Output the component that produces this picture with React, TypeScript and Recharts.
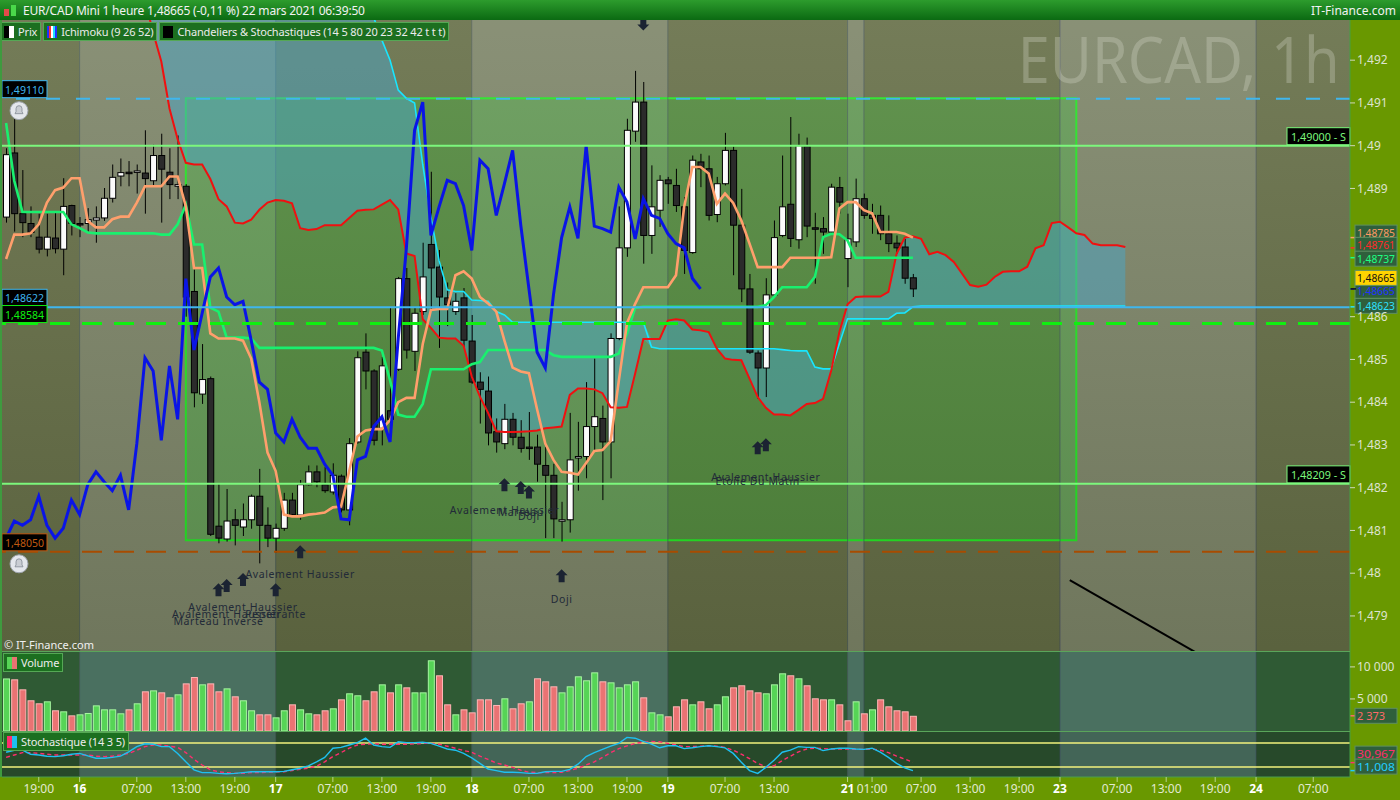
import React from "react";
import {
  ComposedChart,
  Bar,
  Line,
  Area,
  Scatter,
  XAxis,
  YAxis,
  ReferenceLine,
  ReferenceArea,
} from "recharts";

// EUR/CAD 1h, one slot per hour from 15 mars 15:00 to 22 mars 06:00 (+ 26 future slots for the cloud)
const opens = [
  1.48833, 1.48983, 1.48841, 1.48818, 1.48786, 1.48758, 1.48784, 1.48758, 1.4886, 1.48818,
  1.48818, 1.48826, 1.48831, 1.48877, 1.48929, 1.48938, 1.4894, 1.48936, 1.48918, 1.48977,
  1.48938, 1.48905, 1.48905, 1.48659, 1.48419, 1.48455, 1.4811, 1.4808, 1.48125, 1.48108,
  1.48125, 1.4818, 1.48112, 1.48082, 1.48105, 1.48171, 1.48136, 1.48207, 1.48237, 1.48207,
  1.4819, 1.48227, 1.48148, 1.48307, 1.48517, 1.48473, 1.48339, 1.4838, 1.48477, 1.48689,
  1.48519, 1.48612, 1.48769, 1.48716, 1.48644, 1.48612, 1.48644, 1.48543, 1.48447, 1.48426,
  1.48331, 1.48303, 1.4836, 1.48318, 1.48295, 1.48295, 1.48252, 1.48229, 1.48122, 1.48125,
  1.48273, 1.48273, 1.48343, 1.48362, 1.48307, 1.48549, 1.48761, 1.49034, 1.49102, 1.4879,
  1.48849, 1.4892, 1.48907, 1.48857, 1.4875, 1.48962, 1.48946, 1.48839, 1.48911, 1.48989,
  1.48814, 1.48665, 1.48515, 1.4848, 1.48651, 1.4879, 1.48863, 1.4878, 1.48999, 1.48808,
  1.48806, 1.48798, 1.48902, 1.48736, 1.48775, 1.48876, 1.48837, 1.48837, 1.48794, 1.48772,
  1.48763, 1.48691,
];
const highs = [
  1.48994, 1.49062, 1.48943, 1.48858, 1.48841, 1.48841, 1.48845, 1.48924, 1.48862, 1.48833,
  1.48854, 1.48858, 1.48901, 1.48956, 1.4897, 1.48964, 1.48956, 1.49036, 1.49002, 1.49028,
  1.48994, 1.49024, 1.4891, 1.4871, 1.48536, 1.4846, 1.4821, 1.48197, 1.4815, 1.48163,
  1.48184, 1.48244, 1.48154, 1.48116, 1.48188, 1.48188, 1.48218, 1.48252, 1.48252, 1.48248,
  1.48257, 1.48231, 1.48316, 1.48519, 1.48561, 1.48477, 1.48506, 1.48621, 1.48693, 1.48714,
  1.48621, 1.48773, 1.48939, 1.48756, 1.4868, 1.48655, 1.48667, 1.48604, 1.4847, 1.4846,
  1.48362, 1.48396, 1.48375, 1.48358, 1.48377, 1.48324, 1.48295, 1.48256, 1.48167, 1.48375,
  1.48354, 1.48447, 1.48502, 1.48392, 1.48561, 1.48858, 1.49063, 1.49175, 1.49149, 1.48954,
  1.48931, 1.48927, 1.48946, 1.4888, 1.48977, 1.48981, 1.48977, 1.48927, 1.4903, 1.48998,
  1.48899, 1.487, 1.48521, 1.4869, 1.48825, 1.48977, 1.49067, 1.49028, 1.49019, 1.48843,
  1.48833, 1.48911, 1.48927, 1.48841, 1.48923, 1.48888, 1.48864, 1.4886, 1.48837, 1.4879,
  1.48782, 1.487,
];
const lows = [
  1.4882, 1.48799, 1.48786, 1.48786, 1.48748, 1.48741, 1.48748, 1.48697, 1.4879, 1.48786,
  1.48799, 1.48773, 1.48824, 1.48867, 1.48905, 1.48905, 1.48888, 1.48841, 1.48905, 1.4882,
  1.48875, 1.48875, 1.486, 1.48388, 1.48396, 1.48087, 1.4807, 1.48074, 1.48065, 1.48087,
  1.48104, 1.48023, 1.48061, 1.48048, 1.48099, 1.48133, 1.48125, 1.48205, 1.48201, 1.48188,
  1.48184, 1.48142, 1.48112, 1.48303, 1.4843, 1.48299, 1.48299, 1.4834, 1.48473, 1.48502,
  1.48473, 1.48604, 1.48617, 1.48527, 1.48578, 1.48604, 1.48527, 1.48443, 1.4835, 1.48299,
  1.48282, 1.4829, 1.48299, 1.48282, 1.48265, 1.48214, 1.48082, 1.48082, 1.48074, 1.48095,
  1.48193, 1.48222, 1.48286, 1.48171, 1.48222, 1.48545, 1.4874, 1.49009, 1.48724, 1.48747,
  1.4881, 1.48864, 1.48845, 1.487, 1.48747, 1.48903, 1.48825, 1.48821, 1.48907, 1.48697,
  1.48634, 1.48513, 1.48408, 1.48412, 1.4865, 1.48786, 1.48763, 1.48759, 1.48786, 1.48677,
  1.48747, 1.48794, 1.48841, 1.48669, 1.48763, 1.48829, 1.48794, 1.48779, 1.48751, 1.48747,
  1.48677, 1.48646,
];
const closes = [
  1.48979, 1.48841, 1.4882, 1.48797, 1.48758, 1.48786, 1.48759, 1.48858, 1.48818, 1.48816,
  1.48827, 1.48831, 1.48877, 1.48926, 1.48937, 1.48936, 1.48941, 1.48923, 1.48977, 1.48945,
  1.48909, 1.48909, 1.48646, 1.48422, 1.48453, 1.48091, 1.48082, 1.48122, 1.48112, 1.48125,
  1.4818, 1.48112, 1.48082, 1.48105, 1.48171, 1.48137, 1.48207, 1.48237, 1.48214, 1.48193,
  1.48229, 1.48148, 1.48303, 1.48504, 1.48473, 1.48311, 1.48485, 1.4836, 1.48689, 1.48522,
  1.48608, 1.48693, 1.48714, 1.48646, 1.48628, 1.48636, 1.48545, 1.48447, 1.4843, 1.48328,
  1.48307, 1.4836, 1.48318, 1.48292, 1.48292, 1.48255, 1.48229, 1.48127, 1.48125, 1.48265,
  1.48273, 1.48343, 1.48366, 1.48307, 1.48549, 1.48761, 1.49036, 1.49102, 1.4879, 1.48857,
  1.48919, 1.48911, 1.4886, 1.48755, 1.48966, 1.48946, 1.48837, 1.48911, 1.48989, 1.48814,
  1.48665, 1.48517, 1.4848, 1.48651, 1.48785, 1.48857, 1.48783, 1.49, 1.48812, 1.48806,
  1.48798, 1.48903, 1.48868, 1.48782, 1.48876, 1.48837, 1.4883, 1.48794, 1.48771, 1.48761,
  1.4869, 1.48665,
];
const volumes = [
  8200, 8060, 6500, 4790, 4320, 4630, 3230, 3070, 2440, 2600,
  2810, 4000, 3380, 3380, 2760, 3380, 4320, 6190, 6340, 6030,
  5250, 5720, 7430, 8420, 7280, 7430, 6190, 6650, 5410, 4790,
  3230, 2600, 2600, 2130, 3230, 4160, 3380, 2760, 2600, 3230,
  3540, 4940, 5880, 5570, 4790, 6190, 7280, 6030, 7280, 6810,
  6030, 6030, 11030, 8690, 4160, 2600, 3380, 2910, 4940, 4940,
  4060, 5100, 3540, 4320, 4630, 8220, 7750, 6970, 6030, 6970,
  8530, 7910, 9150, 7750, 7590, 6810, 7280, 7750, 5250, 2910,
  2600, 2290, 3850, 4940, 4160, 4630, 3540, 4160, 5410, 6810,
  7130, 6340, 6030, 5880, 7280, 9000, 8690, 8220, 7130, 5100,
  4940, 4940, 4160, 1670, 4630, 2760, 3380, 4940, 3850, 3230,
  3070, 2373,
];
const volumeSide =
  "GRRRRGRGRG" + "GGGGGRGRGR" + "RGRRGRRGRG" + "GRRGGRGGRR" + "GRGGRRGRGR" + "GGGRRGRRRR" +
  "RGRRGRRRGG" + "GGGRGGGGRG" + "GRRRGRRGGR" + "RRRGGGRGRR" + "RGRRGRGRRR" + "RR";
const tenkan = [
  1.48735, 1.48792, 1.48792, 1.48795, 1.48816, 1.48867, 1.48896, 1.48902, 1.48924, 1.48924,
  1.48824, 1.48809, 1.48809, 1.48828, 1.48834, 1.48834, 1.48867, 1.48905, 1.48905, 1.48905,
  1.48928, 1.48928, 1.48858, 1.48714, 1.48714, 1.48561, 1.48549, 1.48549, 1.48549, 1.48544,
  1.48502, 1.484, 1.48282, 1.48239, 1.48137, 1.48133, 1.48133, 1.48137, 1.48139, 1.48142,
  1.48154, 1.48156, 1.48239, 1.4832, 1.48334, 1.48337, 1.48337, 1.48358, 1.484, 1.4841,
  1.4841, 1.48536, 1.48616, 1.48618, 1.48618, 1.48697, 1.48706, 1.48689, 1.48646, 1.48631,
  1.48612, 1.48544, 1.48481, 1.48472, 1.48468, 1.48383, 1.48303, 1.48265, 1.48237, 1.48235,
  1.48231, 1.48258, 1.48286, 1.48288, 1.48309, 1.4845, 1.48585, 1.4863, 1.48669, 1.48669,
  1.48669, 1.48669, 1.48697, 1.48857, 1.4895, 1.4895, 1.48935, 1.48864, 1.48888, 1.48866,
  1.48825, 1.48771, 1.48716, 1.48716, 1.48716, 1.48716, 1.48738, 1.48738, 1.48738, 1.48738,
  1.48738, 1.48739, 1.48853, 1.48868, 1.48868, 1.48849, 1.48842, 1.48798, 1.48798, 1.48798,
  1.48794, 1.48785,
];
const kijun = [
  1.49053, 1.48918, 1.48845, 1.48845, 1.48845, 1.48845, 1.48845, 1.48845, 1.48816, 1.48807,
  1.48797, 1.48795, 1.48795, 1.48795, 1.48795, 1.48795, 1.48795, 1.48795, 1.48795, 1.48792,
  1.48792, 1.48816, 1.48862, 1.48769, 1.48769, 1.48621, 1.48612, 1.48551, 1.48551, 1.48551,
  1.48549, 1.48527, 1.48527, 1.48527, 1.48527, 1.48527, 1.48527, 1.48527, 1.48527, 1.48527,
  1.48527, 1.48527, 1.48527, 1.48527, 1.48527, 1.48527, 1.48521, 1.48451, 1.48371, 1.48366,
  1.48366, 1.48396, 1.48477, 1.48477, 1.48477, 1.48477, 1.48477, 1.48489, 1.48494, 1.48522,
  1.48522, 1.48522, 1.48522, 1.48522, 1.48522, 1.48522, 1.48522, 1.4851, 1.48506, 1.48506,
  1.48506, 1.48506, 1.48506, 1.48506, 1.48506, 1.48514, 1.4856, 1.48621, 1.48623, 1.48623,
  1.48623, 1.48623, 1.48623, 1.48623, 1.48623, 1.48623, 1.48623, 1.48623, 1.48623, 1.48623,
  1.48623, 1.48623, 1.48623, 1.48627, 1.48646, 1.48669, 1.48669, 1.48669, 1.48669, 1.48693,
  1.48786, 1.48794, 1.48793, 1.48778, 1.48738, 1.48738, 1.48738, 1.48738, 1.48738, 1.48738,
  1.48738, 1.48738,
];
// red span, values above 1.4929 sit off the top of the chart
const senkouA = [
  null, null, null, null, null, null, null, null, null, null,
  null, null, null, null, null, null, null, 1.4934, 1.49265, 1.49197,
  1.49087, 1.49015, 1.4896, 1.48956, 1.48956, 1.48922, 1.48875, 1.48858, 1.4882, 1.48818,
  1.48827, 1.4885, 1.48867, 1.48873, 1.48871, 1.48865, 1.48807, 1.48803, 1.48805, 1.48814,
  1.48814, 1.48814, 1.48831, 1.48848, 1.4885, 1.48851, 1.48862, 1.48873, 1.48851, 1.48748,
  1.48742, 1.48594, 1.48574, 1.48551, 1.48549, 1.48549, 1.48532, 1.4846, 1.48413, 1.48375,
  1.48332, 1.4833, 1.4833, 1.48331, 1.48332, 1.48334, 1.48339, 1.48341, 1.48343, 1.48417,
  1.48432, 1.48432, 1.4843, 1.48421, 1.48388, 1.48387, 1.48389, 1.48467, 1.48548, 1.48548,
  1.48548, 1.48591, 1.48594, 1.48591, 1.4857, 1.48568, 1.48564, 1.48525, 1.48502, 1.48499,
  1.48498, 1.48455, 1.48412, 1.48387, 1.48371, 1.48371, 1.48369, 1.48382, 1.48396, 1.48398,
  1.48408, 1.48474, 1.48564, 1.48629, 1.48646, 1.48647, 1.48647, 1.48647, 1.48658, 1.48747,
  1.48785, 1.48788, 1.48782, 1.48746, 1.48752, 1.48744, 1.48728, 1.48701, 1.48674, 1.4867,
  1.48675, 1.48693, 1.48705, 1.48706, 1.48706, 1.48717, 1.4876, 1.48767, 1.48819, 1.48822,
  1.48809, 1.48795, 1.48791, 1.48771, 1.48767, 1.48767, 1.48767, 1.48763,
];
// cyan span
const senkouB = [
  null, null, null, null, null, null, null, null, null, null,
  null, null, null, null, null, null, null, 1.4958, 1.4958, 1.4957,
  1.4955, 1.4955, 1.4953, 1.495, 1.495, 1.4948, 1.4946, 1.4946, 1.4945, 1.4945,
  1.4943, 1.4942, 1.4942, 1.4941, 1.494, 1.494, 1.4939, 1.4938, 1.4937, 1.4937,
  1.4935, 1.4934, 1.4933, 1.4932, 1.4931, 1.493, 1.49247, 1.492, 1.4913, 1.49111,
  1.491, 1.48956, 1.48833, 1.48731, 1.48663, 1.48659, 1.48659, 1.48639, 1.48638, 1.48636,
  1.48612, 1.48604, 1.48587, 1.48587, 1.48587, 1.48587, 1.48587, 1.48587, 1.48587, 1.48587,
  1.48587, 1.48587, 1.48587, 1.48587, 1.48587, 1.48587, 1.48587, 1.48587, 1.48587, 1.48529,
  1.48525, 1.48525, 1.48525, 1.48525, 1.48525, 1.48525, 1.48525, 1.48525, 1.48525, 1.48525,
  1.48525, 1.48525, 1.48525, 1.48525, 1.48525, 1.48523, 1.48521, 1.4852, 1.4852, 1.48482,
  1.48478, 1.48478, 1.48537, 1.48595, 1.48595, 1.48595, 1.48595, 1.48595, 1.48595, 1.48608,
  1.48609, 1.48623, 1.48625, 1.48625, 1.48625, 1.48625, 1.48625, 1.48625, 1.48625, 1.48625,
  1.48625, 1.48625, 1.48625, 1.48625, 1.48625, 1.48625, 1.48625, 1.48625, 1.48625, 1.48625,
  1.48625, 1.48625, 1.48625, 1.48625, 1.48625, 1.48625, 1.48625, 1.48625,
];
const stochK = [
  57, 62, 62, 52, 50, 47, 46, 48, 52, 54, 48, 42, 42, 44, 47, 58, 71, 78, 77, 71,
  71, 54, 33, 13, 6, 6, 4, 3, 4, 6, 8, 8, 8, 8, 9, 13, 17, 23, 33, 44,
  67, 69, 75, 81, 92, 75, 71, 69, 83, 81, 81, 82, 79, 72, 65, 62, 54, 43, 29, 15,
  11, 7, 7, 6, 4, 4, 8, 9, 9, 14, 27, 46, 56, 64, 72, 79, 94, 92, 84, 77,
  68, 73, 73, 66, 68, 71, 73, 71, 68, 54, 32, 11, 4, 19, 37, 57, 62, 71, 69, 69,
  61, 65, 67, 67, 65, 64, 67, 57, 44, 29, 18, 11,
];
const stochD = [
  44, 50, 56, 56, 54, 52, 50, 50, 50, 50, 50, 47, 46, 47, 50, 54, 62, 71, 75, 75,
  72, 69, 56, 39, 25, 13, 8, 6, 4, 4, 6, 6, 7, 8, 8, 11, 14, 17, 22, 33,
  46, 56, 67, 75, 77, 78, 77, 77, 77, 77, 78, 79, 79, 77, 72, 67, 61, 57, 47, 39,
  30, 25, 19, 12, 7, 6, 6, 6, 7, 11, 17, 25, 33, 44, 56, 66, 73, 79, 82, 84,
  83, 79, 75, 71, 71, 72, 73, 72, 69, 62, 52, 41, 29, 21, 23, 36, 47, 58, 65, 67,
  66, 65, 65, 65, 64, 64, 65, 62, 56, 47, 40, 32,
];

const tickSlots = [4, 9, 16, 22, 28, 33, 40, 46, 52, 57, 64, 70, 76, 81, 88, 94, 103, 106, 112, 118, 124, 129, 136, 142, 148, 153, 160];
const tickLabels = ["19:00", "16", "07:00", "13:00", "19:00", "17", "07:00", "13:00", "19:00", "18", "07:00", "13:00", "19:00", "19", "07:00", "13:00", "21", "01:00", "07:00", "13:00", "19:00", "23", "07:00", "13:00", "19:00", "24", "07:00"];
const dayEdges = [-0.5, 9, 33, 57, 81, 103, 105, 129, 153, 164.5];
// 1,487 and 1,488 sit behind the last-value tags
const priceTicks = [1.479, 1.48, 1.481, 1.482, 1.483, 1.484, 1.485, 1.486, 1.489, 1.49, 1.491, 1.492];

// candle patterns
const patternSlots = [26, 27, 29, 33, 36, 61, 63, 64, 68, 92, 93];
const patternArrow = [1.4796, 1.4797, 1.47984, 1.4796, 1.48049, 1.48206, 1.48199, 1.48189, 1.47993, 1.48292, 1.48299];
const patternText = [1.47888, 1.47904, 1.4792, 1.47904, 1.47998, 1.48147, 1.48143, 1.48133, 1.47939, 1.48215, 1.48225];
const patternNames = ["Marteau Inversé", "Avalement Haussier", "Avalement Haussier", "Pénétrante", "Avalement Haussier", "Avalement Haussier", "Marteau", "Doji", "Doji", "Etoile Du Matin", "Avalement Haussier"];
const bearSlots = [78];
const bearLevels = [1.49286];

// drawings
const zone = { from: 22, to: 131, low: 1.48077, high: 1.49111 };
const trend = { x1: 130.2, y1: 1.47984, x2: 145.6, y2: 1.47815 };
const lastPrice = 1.48665;
const lastVolume = 2373;
const lastK = 11.008;
const lastD = 30.967;

const FONT = "'Segoe UI', 'Noto Sans', 'DejaVu Sans', sans-serif";
const PRICE_DOMAIN: [number, number] = [1.47818, 1.49294];
const X_DOMAIN: [number, number] = [-0.5, 164.5];

const rows = Array.from({ length: 165 }, (_, i) => {
  const has = i < closes.length;
  const sa = senkouA[i] ?? null;
  const sb = senkouB[i] ?? null;
  return {
    i,
    o: has ? opens[i] : null,
    h: has ? highs[i] : null,
    l: has ? lows[i] : null,
    c: has ? closes[i] : null,
    hl: has ? [lows[i], highs[i]] : null,
    tenkan: tenkan[i] ?? null,
    kijun: kijun[i] ?? null,
    chikou: i + 26 < closes.length ? closes[i + 26] : null,
    sa,
    sb,
    cloud: sa != null && sb != null ? [Math.min(sa, sb), Math.max(sa, sb)] : null,
    vol: has ? volumes[i] : null,
    side: volumeSide[i] ?? "",
    k: stochK[i] ?? null,
    d: stochD[i] ?? null,
  };
});

const arrowPts = patternSlots.map((s, n) => ({ i: s, lv: patternArrow[n], up: true }))
  .concat(bearSlots.map((s, n) => ({ i: s, lv: bearLevels[n], up: false })));
const textPts = patternSlots.map((s, n) => ({ i: s, lv: patternText[n], name: patternNames[n] }));

const fmtPrice = (v: number) => v.toFixed(3).replace(/0+$/, "").replace(/\.$/, "").replace(".", ",");
const fmt5 = (v: number) => v.toFixed(5).replace(".", ",");
const fmtVol = (v: number) => String(v).replace(/\B(?=(\d{3})+(?!\d))/g, " ");

function Candle(props: any) {
  const { x, y, width, height, payload } = props;
  if (!payload || payload.c == null || !isFinite(y) || !isFinite(height)) return <g />;
  const { o, h, l, c } = payload;
  const span = h - l > 0 ? h - l : 1e-9;
  const at = (v: number) => y + ((h - v) / span) * height;
  const mid = x + width / 2;
  const top = at(Math.max(o, c));
  const bottom = at(Math.min(o, c));
  const bull = c >= o;
  return (
    <g>
      <line x1={mid} x2={mid} y1={y} y2={y + height} stroke="#000" strokeWidth={1} />
      <rect x={x + 0.5} y={top} width={width - 1} height={Math.max(bottom - top, 1.5)}
        fill={bull ? "#fbfbfb" : "#2b2b2b"} stroke="#000" strokeWidth={1} />
    </g>
  );
}

function VolBar(props: any) {
  const { x, y, width, height, payload } = props;
  if (!payload || payload.vol == null || !(height > 0)) return <g />;
  const up = payload.side === "G";
  return (
    <rect x={x + 0.5} y={y + 0.5} width={width - 1} height={height - 0.5}
      fill={up ? "#56d456" : "#ea7373"} stroke={up ? "#a6f5a0" : "#ffb6b6"} strokeWidth={1} />
  );
}

function PatternArrow(props: any) {
  const { cx, cy, payload } = props;
  if (!isFinite(cx) || !isFinite(cy)) return <g />;
  const s = payload.up ? 1 : -1;
  const d = `M${cx},${cy - 7 * s} L${cx + 6},${cy - s} L${cx + 3},${cy - s} L${cx + 3},${cy + 6 * s} L${cx - 3},${cy + 6 * s} L${cx - 3},${cy - s} L${cx - 6},${cy - s} Z`;
  return <path d={d} fill="#1b2332" />;
}

function PatternText(props: any) {
  const { cx, cy, payload } = props;
  if (!isFinite(cx) || !isFinite(cy)) return <g />;
  return (
    <text x={cx} y={cy + 4} textAnchor="middle" fill="#222a38" fontSize={10.5} letterSpacing={0.6} fontFamily={FONT}>
      {payload.name}
    </text>
  );
}

function Bell({ x, y }: { x: number; y: number }) {
  return (
    <g>
      <circle cx={x} cy={y} r={9} fill="#e4e7ec" stroke="#9ea4ad" />
      <path d={`M${x - 4},${y + 3} L${x + 4},${y + 3} L${x + 3},${y + 1} L${x + 3},${y - 2} Q${x + 3},${y - 5} ${x},${y - 5} Q${x - 3},${y - 5} ${x - 3},${y - 2} L${x - 3},${y + 1} Z`}
        fill="#c9cdd3" stroke="#838a94" strokeWidth={0.8} />
    </g>
  );
}

const leftTag = (text: string, color: string, bell: boolean) => (p: any) => {
  const vb = p.viewBox ?? {};
  const x0 = vb.x ?? 0;
  const y0 = vb.y ?? 0;
  return (
    <g>
      <rect x={x0} y={y0 - 18} width={45} height={17} fill="#000" stroke={color} strokeWidth={1} />
      <text x={x0 + 3} y={y0 - 5} fill={color} fontSize={11.5} fontFamily={FONT} textLength={39} lengthAdjust="spacingAndGlyphs">{text}</text>
      {bell && <Bell x={x0 + 17} y={y0 + 12} />}
    </g>
  );
};

const rightTag = (text: string, color: string) => (p: any) => {
  const vb = p.viewBox ?? {};
  const x0 = (vb.x ?? 0) + (vb.width ?? 0) - 63;
  const y0 = vb.y ?? 0;
  return (
    <g>
      <rect x={x0} y={y0 - 18} width={63} height={17} fill="#000" stroke={color} strokeWidth={1} />
      <text x={x0 + 4} y={y0 - 5} fill={color} fontSize={11.5} fontFamily={FONT} textLength={55} lengthAdjust="spacingAndGlyphs">{text}</text>
    </g>
  );
};

const axisTag = (text: string, color: string, bg: string, dy: number) => (p: any) => {
  const vb = p.viewBox ?? {};
  const x0 = (vb.x ?? 0) + (vb.width ?? 0);
  const y0 = vb.y ?? 0;
  return (
    <g>
      <line x1={x0} x2={x0 + 6} y1={y0} y2={y0} stroke={color} strokeWidth={1.5} />
      <rect x={x0 + 5} y={y0 + dy - 7.5} width={42} height={15} fill={bg} stroke="#5f8f62" strokeWidth={1} />
      <text x={x0 + 7} y={y0 + dy + 4.2} fill={color} fontSize={11.5} fontFamily={FONT}
        textLength={text.length > 5 ? 38 : 28} lengthAdjust="spacingAndGlyphs">{text}</text>
    </g>
  );
};

function XTick(props: any) {
  const { x, y, payload } = props;
  const label = tickLabels[tickSlots.indexOf(payload.value)] ?? "";
  const day = label.length <= 2;
  return (
    <text x={x} y={y} dy="0.71em" textAnchor="middle" fill={day ? "#ffffff" : "#e2ead2"}
      fontSize={12} fontWeight={day ? 700 : 400} fontFamily={FONT}>
      {label}
    </text>
  );
}

function Bands({ dark, light }: { dark: string; light: string }) {
  return (
    <>
      {dayEdges.slice(0, -1).map((e, n) => (
        <ReferenceArea key={"b" + n} x1={e} x2={dayEdges[n + 1]} fill={n % 2 ? light : dark} fillOpacity={1} stroke="none" ifOverflow="visible" />
      ))}
      {dayEdges.slice(1, -1).map((e) => (
        <ReferenceLine key={"s" + e} x={e} stroke="rgba(58,70,104,0.55)" strokeWidth={1} />
      ))}
    </>
  );
}

const legendBox: React.CSSProperties = {
  display: "flex", alignItems: "center", height: 17, padding: "0 3px 0 3px", marginRight: 2,
  background: "#1c6f20", border: "1px solid #55a855", color: "#ececec", fontSize: 11, letterSpacing: -0.15, whiteSpace: "nowrap",
};

function Swatch({ colors }: { colors: string[] }) {
  return (
    <span style={{ display: "inline-flex", marginRight: 4 }}>
      {colors.map((c, n) => (
        <span key={n} style={{ width: 10 / colors.length, height: 12, background: c, display: "inline-block" }} />
      ))}
    </span>
  );
}

export default function App() {
  return (
    <div style={{ position: "relative", width: 1400, height: 800, background: "#699800", overflow: "hidden", fontFamily: FONT }}>
      <style>{"body{margin:0}"}</style>

      {/* title bar */}
      <div style={{ position: "absolute", left: 0, top: 0, width: 1400, height: 20, background: "linear-gradient(#2d9c2d, #0b6a12)", color: "#f2f2f2", fontSize: 12, display: "flex", alignItems: "center" }}>
        <span style={{ display: "inline-flex", alignItems: "flex-end", margin: "0 7px 0 4px", gap: 2 }}>
          <span style={{ width: 5, height: 7, background: "#e24a4a", display: "inline-block" }} />
          <span style={{ width: 5, height: 11, background: "#4ad84a", display: "inline-block" }} />
        </span>
        <span style={{ letterSpacing: -0.2 }}>EUR/CAD Mini 1 heure 1,48665 (-0,11 %) 22 mars 2021 06:39:50</span>
        <span style={{ position: "absolute", right: 4 }}>IT-Finance.com</span>
      </div>

      {/* price panel */}
      <div style={{ position: "absolute", left: 0, top: 20, width: 1400, height: 631 }}>
        <div style={{ position: "absolute", left: 0, top: 0 }}>
          <ComposedChart width={1400} height={631} data={rows} margin={{ top: 0, right: 50, bottom: 0, left: 2 }}>
            <XAxis dataKey="i" type="number" domain={X_DOMAIN} hide allowDataOverflow />
            <YAxis domain={PRICE_DOMAIN} hide allowDataOverflow />
            {Bands({ dark: "#646d45", light: "#7c8467" })}
            <ReferenceArea x1={zone.from} x2={zone.to} y1={zone.low} y2={zone.high} fill="#28c828" fillOpacity={0.3} stroke="#22e522" strokeWidth={2} />
            <Line dataKey="c" stroke="transparent" dot={false} isAnimationActive={false} />
          </ComposedChart>
        </div>
        <div style={{ position: "absolute", left: 2, top: 0, width: 1348, height: 631, background: "linear-gradient(rgba(255,255,255,0.1), rgba(0,0,0,0.1))" }} />
        <div style={{ position: "absolute", right: 60, top: 6, fontSize: 64, lineHeight: "66px", color: "rgba(210,214,196,0.33)", transform: "scaleX(0.9)", transformOrigin: "right" }}>
          EURCAD, 1h
        </div>
        <div style={{ position: "absolute", left: 0, top: 0 }}>
          <ComposedChart width={1400} height={631} data={rows} margin={{ top: 0, right: 0, bottom: 0, left: 2 }}>
            <XAxis dataKey="i" type="number" domain={X_DOMAIN} hide allowDataOverflow />
            <YAxis orientation="right" width={50} domain={PRICE_DOMAIN} allowDataOverflow ticks={priceTicks}
              tickFormatter={fmtPrice} tick={{ fill: "#dde3cf", fontSize: 12, fontFamily: FONT }}
              tickLine={{ stroke: "#cfd8b8" }} tickSize={5} axisLine={{ stroke: "#45a045" }} />
            <Area dataKey="cloud" type="linear" stroke="none" fill="#4aa6c8" fillOpacity={0.5} isAnimationActive={false} />
            <Bar dataKey="hl" barSize={7} shape={Candle} isAnimationActive={false} />
            <Line dataKey="sb" type="linear" stroke="#19e6ff" strokeWidth={1.6} dot={false} isAnimationActive={false} />
            <Line dataKey="sa" type="linear" stroke="#f01010" strokeWidth={2} dot={false} isAnimationActive={false} />
            <Line dataKey="kijun" type="linear" stroke="#19f06e" strokeWidth={2.6} dot={false} isAnimationActive={false} />
            <Line dataKey="tenkan" type="linear" stroke="#ff9f6c" strokeWidth={2.6} dot={false} isAnimationActive={false} />
            <Line dataKey="chikou" type="linear" stroke="#0a14e6" strokeWidth={3} dot={false} isAnimationActive={false} />

            <ReferenceLine y={1.4911} stroke="#3fb6ee" strokeWidth={2} strokeDasharray="14 16" label={leftTag("1,49110", "#3fb6ee", true)} />
            <ReferenceLine y={1.49} stroke="#7cf77c" strokeWidth={2} label={rightTag("1,49000 - S", "#7cf77c")} />
            <ReferenceLine y={1.48622} stroke="#3fb6ee" strokeWidth={2} label={leftTag("1,48622", "#3fb6ee", false)} />
            <ReferenceLine y={1.48584} stroke="#10ef10" strokeWidth={3} strokeDasharray="20 12" label={leftTag("1,48584", "#10ef10", false)} />
            <ReferenceLine y={1.48209} stroke="#7cf77c" strokeWidth={2} label={rightTag("1,48209 - S", "#7cf77c")} />
            <ReferenceLine y={1.4805} stroke="#a84c00" strokeWidth={2} strokeDasharray="20 12" label={leftTag("1,48050", "#c05a10", true)} />
            <ReferenceLine segment={[{ x: trend.x1, y: trend.y1 }, { x: trend.x2, y: trend.y2 }]} stroke="#000" strokeWidth={2} ifOverflow="hidden" />

            <Scatter data={arrowPts} dataKey="lv" shape={PatternArrow} isAnimationActive={false} />
            <Scatter data={textPts} dataKey="lv" shape={PatternText} isAnimationActive={false} />

            <ReferenceLine y={tenkan[tenkan.length - 1]} stroke="none" label={axisTag(fmt5(1.48785), "#ff9a66", "#2f5f3c", -5)} />
            <ReferenceLine y={1.48761} stroke="none" label={axisTag("1,48761", "#ff2a2a", "#2f5f3c", -3)} />
            <ReferenceLine y={kijun[kijun.length - 1]} stroke="none" label={axisTag("1,48737", "#1eff82", "#2f5f3c", 1)} />
            <ReferenceLine y={lastPrice} stroke="none" label={axisTag(fmt5(lastPrice), "#2030ff", "#2f5f3c", 2)} />
            <ReferenceLine y={lastPrice} stroke="none" label={axisTag(fmt5(lastPrice), "#111111", "#ffd400", -11)} />
            <ReferenceLine y={1.48623} stroke="none" label={axisTag("1,48623", "#2ee0ff", "#2f5f3c", -1)} />
          </ComposedChart>
        </div>

        <div style={{ position: "absolute", left: 0, top: 2, display: "flex" }}>
          <div style={legendBox}><Swatch colors={["#000", "#fff"]} />Prix</div>
          <div style={legendBox}><Swatch colors={["#2030ff", "#ff3030", "#ffffff", "#20e0ff", "#2030ff"]} />Ichimoku (9 26 52)</div>
          <div style={legendBox}><Swatch colors={["#000"]} />Chandeliers &amp; Stochastiques (14 5 80 20 23 32 42 t t t)</div>
        </div>
        <div style={{ position: "absolute", left: 4, top: 617, color: "#f0f0f0", fontSize: 11 }}>© IT-Finance.com</div>
      </div>

      {/* volume panel */}
      <div style={{ position: "absolute", left: 0, top: 651, width: 1400, height: 80 }}>
        <div style={{ position: "absolute", left: 0, top: 0 }}>
          <ComposedChart width={1400} height={80} data={rows} margin={{ top: 0, right: 50, bottom: 0, left: 2 }}>
            <XAxis dataKey="i" type="number" domain={X_DOMAIN} hide />
            <YAxis domain={[0, 12480]} hide />
            {Bands({ dark: "#2f5a34", light: "#4a7060" })}
            <Line dataKey="vol" stroke="transparent" dot={false} isAnimationActive={false} />
          </ComposedChart>
        </div>
        <div style={{ position: "absolute", left: 0, top: 0 }}>
          <ComposedChart width={1400} height={80} data={rows} margin={{ top: 0, right: 0, bottom: 0, left: 2 }}>
            <XAxis dataKey="i" type="number" domain={X_DOMAIN} hide />
            <YAxis orientation="right" width={50} domain={[0, 12480]} ticks={[5000, 10000]} tickFormatter={fmtVol}
              tick={{ fill: "#dde3cf", fontSize: 12, fontFamily: FONT }} tickLine={{ stroke: "#cfd8b8" }} tickSize={5} axisLine={{ stroke: "#45a045" }} />
            <Bar dataKey="vol" barSize={7} shape={VolBar} isAnimationActive={false} />
            <ReferenceLine y={lastVolume} stroke="none" label={axisTag(fmtVol(lastVolume), "#ff6a6a", "#2f5f3c", 0)} />
          </ComposedChart>
        </div>
        <div style={{ position: "absolute", left: 3, top: 2, display: "flex" }}>
          <div style={legendBox}><Swatch colors={["#56d456", "#ea7373"]} />Volume</div>
        </div>
      </div>

      {/* stochastic panel + time axis */}
      <div style={{ position: "absolute", left: 0, top: 731, width: 1400, height: 69 }}>
        <div style={{ position: "absolute", left: 0, top: 0 }}>
          <ComposedChart width={1400} height={46} data={rows} margin={{ top: 0, right: 50, bottom: 0, left: 2 }}>
            <XAxis dataKey="i" type="number" domain={X_DOMAIN} hide />
            <YAxis domain={[-5, 110]} hide />
            {Bands({ dark: "#27492a", light: "#436557" })}
            <Line dataKey="k" stroke="transparent" dot={false} isAnimationActive={false} />
          </ComposedChart>
        </div>
        <div style={{ position: "absolute", left: 0, top: 0 }}>
          <ComposedChart width={1400} height={69} data={rows} margin={{ top: 0, right: 0, bottom: 0, left: 2 }}>
            <XAxis dataKey="i" type="number" domain={X_DOMAIN} ticks={tickSlots} interval={0} tick={XTick} height={23}
              tickSize={5} tickLine={{ stroke: "#b9d38e" }} axisLine={{ stroke: "#4c9e4c" }} />
            <YAxis orientation="right" width={50} domain={[-5, 110]} allowDataOverflow ticks={[100]}
              tick={{ fill: "#dde3cf", fontSize: 12, fontFamily: FONT, dy: 5 }} tickLine={{ stroke: "#cfd8b8" }} tickSize={5} axisLine={{ stroke: "#45a045" }} />
            <ReferenceLine y={80} stroke="#f2f27c" strokeWidth={1.5} />
            <ReferenceLine y={20} stroke="#f2f27c" strokeWidth={1.5} />
            <Line dataKey="d" type="linear" stroke="#ff2d6f" strokeWidth={1.4} strokeDasharray="4 3" dot={false} isAnimationActive={false} />
            <Line dataKey="k" type="linear" stroke="#1ec0f0" strokeWidth={1.4} dot={false} isAnimationActive={false} />
            <ReferenceLine y={lastD} stroke="none" label={axisTag("30,967", "#ff2d6f", "#2f5f3c", -9)} />
            <ReferenceLine y={lastK} stroke="none" label={axisTag("11,008", "#22ccff", "#2f5f3c", -4)} />
          </ComposedChart>
        </div>
        <div style={{ position: "absolute", left: 3, top: 1, display: "flex" }}>
          <div style={legendBox}><Swatch colors={["#ff2d6f", "#1ec0f0"]} />Stochastique (14 3 5)</div>
        </div>
      </div>

      {/* panel borders */}
      <div style={{ position: "absolute", left: 0, top: 651, width: 1350, height: 1, background: "#5aa55a" }} />
      <div style={{ position: "absolute", left: 0, top: 731, width: 1350, height: 1, background: "#5aa55a" }} />
      <div style={{ position: "absolute", left: 0, top: 20, width: 2, height: 757, background: "#3f9a3f" }} />
    </div>
  );
}
